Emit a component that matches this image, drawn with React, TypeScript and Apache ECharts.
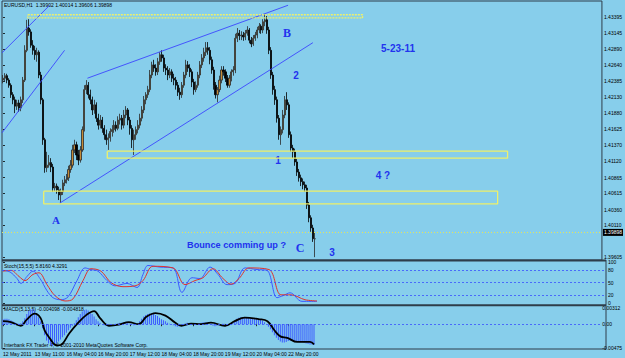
import React, { useEffect, useRef } from "react";
import * as echarts from "echarts";

// ---- data ----
const SLOTS = 302;
// [open, close, low, high], one H1 bar each
const candles: number[][] = [
  [1.4240,1.4243,1.4235,1.4248],[1.4243,1.4247,1.4238,1.4251],[1.4247,1.4240,1.4235,1.4250],[1.4240,1.4232,1.4228,1.4243],
  [1.4232,1.4217,1.4212,1.4235],[1.4217,1.4209,1.4202,1.4221],[1.4209,1.4199,1.4188,1.4214],[1.4199,1.4204,1.4193,1.4209],
  [1.4204,1.4196,1.4190,1.4209],[1.4196,1.4209,1.4191,1.4214],[1.4209,1.4240,1.4204,1.4245],[1.4240,1.4287,1.4237,1.4295],
  [1.4287,1.4322,1.4284,1.4335],[1.4322,1.4316,1.4310,1.4336],[1.4316,1.4295,1.4291,1.4320],[1.4295,1.4287,1.4280,1.4303],
  [1.4287,1.4280,1.4272,1.4294],[1.4280,1.4284,1.4269,1.4291],[1.4284,1.4248,1.4243,1.4287],[1.4248,1.4209,1.4202,1.4253],
  [1.4209,1.4146,1.4138,1.4212],[1.4146,1.4102,1.4094,1.4149],[1.4102,1.4106,1.4095,1.4127],[1.4106,1.4110,1.4102,1.4122],
  [1.4110,1.4103,1.4095,1.4117],[1.4103,1.4070,1.4064,1.4108],[1.4070,1.4073,1.4065,1.4078],[1.4073,1.4067,1.4061,1.4077],
  [1.4067,1.4059,1.4051,1.4072],[1.4059,1.4064,1.4046,1.4069],[1.4064,1.4078,1.4059,1.4083],[1.4078,1.4083,1.4073,1.4089],
  [1.4083,1.4086,1.4077,1.4092],[1.4086,1.4099,1.4081,1.4105],[1.4099,1.4106,1.4094,1.4114],[1.4106,1.4130,1.4102,1.4138],
  [1.4130,1.4138,1.4125,1.4146],[1.4138,1.4122,1.4114,1.4143],[1.4122,1.4114,1.4106,1.4130],[1.4114,1.4130,1.4110,1.4136],
  [1.4130,1.4162,1.4127,1.4167],[1.4162,1.4225,1.4159,1.4232],[1.4225,1.4232,1.4218,1.4240],[1.4232,1.4217,1.4211,1.4237],
  [1.4217,1.4209,1.4202,1.4225],[1.4209,1.4193,1.4185,1.4214],[1.4193,1.4201,1.4187,1.4209],[1.4201,1.4180,1.4174,1.4205],
  [1.4180,1.4169,1.4162,1.4187],[1.4169,1.4177,1.4164,1.4185],[1.4177,1.4164,1.4157,1.4182],[1.4164,1.4154,1.4146,1.4169],
  [1.4154,1.4146,1.4138,1.4162],[1.4146,1.4149,1.4130,1.4156],[1.4149,1.4159,1.4143,1.4164],[1.4159,1.4162,1.4151,1.4169],
  [1.4162,1.4169,1.4157,1.4177],[1.4169,1.4164,1.4159,1.4175],[1.4164,1.4177,1.4161,1.4183],[1.4177,1.4180,1.4170,1.4187],
  [1.4180,1.4169,1.4162,1.4185],[1.4169,1.4185,1.4164,1.4193],[1.4185,1.4193,1.4180,1.4199],[1.4193,1.4177,1.4169,1.4196],
  [1.4177,1.4164,1.4154,1.4182],[1.4164,1.4146,1.4133,1.4169],[1.4146,1.4154,1.4122,1.4162],[1.4154,1.4162,1.4146,1.4167],
  [1.4162,1.4169,1.4156,1.4177],[1.4169,1.4180,1.4164,1.4187],[1.4180,1.4193,1.4175,1.4199],[1.4193,1.4209,1.4188,1.4215],
  [1.4209,1.4217,1.4202,1.4221],[1.4217,1.4225,1.4212,1.4231],[1.4225,1.4248,1.4221,1.4256],[1.4248,1.4264,1.4243,1.4269],
  [1.4264,1.4259,1.4253,1.4272],[1.4259,1.4253,1.4247,1.4265],[1.4253,1.4269,1.4248,1.4275],[1.4269,1.4280,1.4264,1.4284],
  [1.4280,1.4275,1.4269,1.4287],[1.4275,1.4259,1.4253,1.4280],[1.4259,1.4256,1.4248,1.4265],[1.4256,1.4248,1.4240,1.4262],
  [1.4248,1.4253,1.4243,1.4259],[1.4253,1.4243,1.4237,1.4257],[1.4243,1.4240,1.4232,1.4250],[1.4240,1.4232,1.4225,1.4245],
  [1.4232,1.4221,1.4215,1.4237],[1.4221,1.4217,1.4209,1.4228],[1.4217,1.4232,1.4212,1.4237],[1.4232,1.4248,1.4228,1.4253],
  [1.4248,1.4264,1.4243,1.4272],[1.4264,1.4259,1.4253,1.4270],[1.4259,1.4253,1.4245,1.4265],[1.4253,1.4237,1.4229,1.4257],
  [1.4237,1.4225,1.4217,1.4242],[1.4225,1.4232,1.4221,1.4238],[1.4232,1.4248,1.4228,1.4253],[1.4248,1.4264,1.4243,1.4270],
  [1.4264,1.4275,1.4259,1.4281],[1.4275,1.4284,1.4269,1.4291],[1.4284,1.4291,1.4278,1.4300],[1.4291,1.4287,1.4280,1.4300],
  [1.4287,1.4272,1.4265,1.4292],[1.4272,1.4256,1.4250,1.4277],[1.4256,1.4232,1.4225,1.4261],[1.4232,1.4217,1.4211,1.4237],
  [1.4217,1.4225,1.4205,1.4229],[1.4225,1.4240,1.4221,1.4247],[1.4240,1.4256,1.4235,1.4262],[1.4256,1.4253,1.4247,1.4262],
  [1.4253,1.4243,1.4237,1.4257],[1.4243,1.4232,1.4228,1.4248],[1.4232,1.4243,1.4228,1.4248],[1.4243,1.4253,1.4238,1.4257],
  [1.4253,1.4256,1.4247,1.4262],[1.4256,1.4306,1.4251,1.4313],[1.4306,1.4314,1.4300,1.4322],[1.4314,1.4310,1.4303,1.4319],
  [1.4310,1.4311,1.4303,1.4317],[1.4311,1.4308,1.4302,1.4316],[1.4308,1.4314,1.4303,1.4319],[1.4314,1.4319,1.4310,1.4325],
  [1.4319,1.4303,1.4298,1.4322],[1.4303,1.4297,1.4292,1.4308],[1.4297,1.4306,1.4294,1.4311],[1.4306,1.4311,1.4302,1.4316],
  [1.4311,1.4319,1.4306,1.4324],[1.4319,1.4325,1.4314,1.4330],[1.4325,1.4319,1.4313,1.4328],[1.4319,1.4332,1.4314,1.4336],
  [1.4332,1.4335,1.4325,1.4343],[1.4335,1.4319,1.4313,1.4341],[1.4319,1.4287,1.4281,1.4324],[1.4287,1.4248,1.4242,1.4292],
  [1.4248,1.4225,1.4217,1.4253],[1.4225,1.4209,1.4201,1.4231],[1.4209,1.4180,1.4173,1.4214],[1.4180,1.4154,1.4146,1.4185],
  [1.4154,1.4162,1.4138,1.4167],[1.4162,1.4185,1.4156,1.4193],[1.4185,1.4209,1.4180,1.4215],[1.4209,1.4201,1.4193,1.4221],
  [1.4201,1.4154,1.4149,1.4205],[1.4154,1.4133,1.4127,1.4159],[1.4133,1.4127,1.4117,1.4138],[1.4127,1.4111,1.4105,1.4132],
  [1.4111,1.4095,1.4089,1.4116],[1.4095,1.4086,1.4080,1.4100],[1.4086,1.4080,1.4073,1.4091],[1.4080,1.4075,1.4068,1.4085],
  [1.4075,1.4070,1.4064,1.4080],[1.4070,1.4043,1.4037,1.4075],[1.4043,1.4023,1.4016,1.4048],[1.4023,1.4007,1.4001,1.4027],
  [1.4007,1.3990,1.3985,1.4012],[1.3990,1.3990,1.3961,1.4001],
];

const priceTicks = [1.43395,1.43145,1.4289,1.4264,1.42385,1.4213,1.4188,1.41625,1.4137,1.4112,1.40865,1.40615,1.4036,1.4011,1.39605];
const bidPrice = 1.39898;

const dateLabels = ["12 May 2011","13 May 11:00","16 May 04:00","16 May 20:00","17 May 12:00","18 May 04:00","18 May 20:00","19 May 12:00","20 May 04:00","22 May 20:00"];
const dateIdx = [0,16,32,48,64,80,96,112,128,144];

// trend lines: [[barIndex, price], [barIndex, price]]
const trendLines: number[][][] = [
  [[-0.5,1.4283],[23.5,1.4358]],
  [[-0.5,1.4157],[31,1.4287]],
  [[42.5,1.4243],[143.5,1.4358]],
  [[28.5,1.4046],[156,1.4299]],
];
// zones: [fromIndex, toIndex, priceTop, priceBottom]
const zones: number[][] = [
  [12.5,181,1.4343,1.4338],
  [52.5,254,1.4128,1.4117],
  [20.5,249,1.4065,1.4045],
];

const stochK: number[][] = [
  [0,80],[3.5,76],[7,60],[9,48],[12,65],[15,78],[18.5,60],[22,30],[25,13],[29,8],[32.5,15],[37,55],[41,86],[44,82],
  [47.5,78],[52,55],[56,42],[62,48],[67,38],[70,70],[72.5,92],[78.5,88],[85,86],[89.5,26],[94.5,62],[98.5,60],
  [103.5,88],[107.5,70],[112,45],[116,48],[121,86],[127,82],[132,80],[137,13],[140,18],[143.5,25],[149.5,4],[157,4],
];
const stochD: number[][] = [
  [0,78],[4,80],[8,65],[11,55],[15,70],[18,74],[22,45],[26,18],[31,5],[35,10],[40,55],[44,84],[49,78],[54,50],
  [60,40],[66,42],[70,55],[75,90],[85,86],[91,45],[96,55],[100,62],[105,84],[110,60],[114,46],[118,60],[123,86],
  [133,82],[139,20],[144,20],[151,8],[157,5],
];
const stochLevels = [20, 50, 80];
const stochTicks = [0, 20, 50, 80, 100];

const macdHist = [
  0.0010,0.0011,0.0011,0.0010,0.0008,0.0006,0.0004,0.0002,0.0001,0.0002,
  0.0006,0.0012,0.0020,0.0026,0.0029,0.0030,0.0027,0.0022,0.0014,0.0006,
  -0.0008,-0.0022,-0.0032,-0.0038,-0.0042,-0.0043,-0.0041,-0.0038,-0.0034,-0.0030,
  -0.0026,-0.0022,-0.0017,-0.0012,-0.0007,-0.0003,0.0002,0.0008,0.0014,0.0020,
  0.0025,0.0028,0.0029,0.0027,0.0024,0.0020,0.0015,0.0010,0.0006,0.0003,
  0.0000,-0.0002,-0.0003,-0.0003,-0.0002,-0.0001,0.0000,0.0001,0.0002,0.0003,
  0.0003,0.0004,0.0003,0.0002,0.0001,-0.0001,-0.0002,-0.0001,0.0002,0.0006,
  0.0011,0.0015,0.0018,0.0020,0.0021,0.0021,0.0020,0.0018,0.0016,0.0013,
  0.0010,0.0008,0.0006,0.0003,0.0001,0.0000,-0.0002,-0.0004,-0.0005,-0.0004,
  -0.0002,0.0000,0.0002,0.0003,0.0002,0.0001,0.0000,0.0000,0.0001,0.0002,
  0.0003,0.0004,0.0004,0.0003,0.0001,-0.0001,-0.0003,-0.0004,-0.0003,-0.0001,
  0.0000,0.0001,0.0001,0.0000,-0.0001,0.0000,0.0003,0.0008,0.0011,0.0013,
  0.0014,0.0014,0.0013,0.0013,0.0012,0.0011,0.0011,0.0012,0.0012,0.0011,
  0.0010,0.0007,0.0004,0.0000,-0.0005,-0.0010,-0.0016,-0.0022,-0.0027,-0.0031,
  -0.0034,-0.0036,-0.0036,-0.0035,-0.0033,-0.0032,-0.0033,-0.0034,-0.0035,-0.0035,
  -0.0036,-0.0036,-0.0037,-0.0038,-0.0039,-0.0040,-0.0040,-0.0041,
];
const macdSignal: number[][] = [
  [0,0.0006],[4,0.0004],[9,-0.0003],[12,0.0009],[16,0.0021],[19,0.0012],[21,-0.0012],[24,-0.0030],[26,-0.0040],
  [28,-0.0042],[30,-0.0039],[33.5,-0.0018],[38,0.0003],[42,0.0018],[46,0.0026],[49,0.0012],[53.5,-0.0003],
  [58.5,-0.0001],[63.5,0.0004],[68.5,0.0000],[72.5,0.0015],[77,0.0022],[82,0.0017],[87,0.0003],[90,-0.0003],
  [95,0.0001],[100,0.0000],[105,0.0003],[112,-0.0003],[117,0.0006],[122,0.0013],[129,0.0010],[133.5,0.0006],
  [137,-0.0012],[140,-0.0024],[143.5,-0.0027],[148.5,-0.0035],[155,-0.0035],[157,-0.0040],
];
const macdTicks = [-0.00475, 0, 0.00312];

export default function App() {
  const ref = useRef<HTMLDivElement>(null);
  useEffect(() => {
    document.body.style.margin = "0";
    const chart = echarts.init(ref.current!, null, { renderer: "svg" });
    const cats = Array.from({ length: SLOTS }, (_, i) => String(i));
    const X0 = -0.5, X1 = SLOTS - 0.5;
    const small = { fontSize: 5, lineHeight: 4, color: "#000", fontFamily: "Liberation Sans" };
    const blue = "#2233ee";
    const frame = "#2e3d4a";

    const series: any[] = [
      {
        type: "candlestick", xAxisIndex: 0, yAxisIndex: 0, data: candles, barWidth: 1.6, silent: true,
        itemStyle: { color: "#c48a36", color0: "#000000", borderColor: "#2a2a2a", borderColor0: "#000000", borderWidth: 0.8 },
        markLine: {
          silent: true, symbol: "none",
          lineStyle: { color: "#e6e65a", type: [1, 2], width: 1 },
          label: { show: true, position: "end", formatter: bidPrice.toFixed(5), backgroundColor: "#000", color: "#fff", fontSize: 5, lineHeight: 5, padding: [1, 1], distance: 1, fontFamily: "Liberation Sans" },
          data: [{ yAxis: bidPrice }],
        },
      },
    ];
    trendLines.forEach((l) => {
      series.push({ type: "line", xAxisIndex: 1, yAxisIndex: 0, data: l, symbol: "none", silent: true, lineStyle: { color: "#3c46ff", width: 0.9 } });
    });
    zones.forEach((z, k) => {
      const [a, b, t, btm] = z;
      series.push({
        type: "line", xAxisIndex: 1, yAxisIndex: 0, symbol: "none", silent: true,
        data: [[a, t], [b, t], [b, btm], [a, btm], [a, t]],
        lineStyle: { color: "#eef06a", width: 1.3, type: k === 0 ? [2, 1] : "solid" },
      });
    });
    series.push({
      type: "line", xAxisIndex: 2, yAxisIndex: 1, data: stochK, symbol: "none", silent: true, smooth: 0.35,
      lineStyle: { color: "#3d5bff", width: 1 },
      markLine: { silent: true, symbol: "none", label: { show: false }, lineStyle: { color: "#3a50ff", type: [2, 2], width: 0.8 }, data: stochLevels.map((v) => ({ yAxis: v })) },
    });
    series.push({ type: "line", xAxisIndex: 2, yAxisIndex: 1, data: stochD, symbol: "none", silent: true, smooth: 0.35, lineStyle: { color: "#e0322a", width: 1 } });
    series.push({
      type: "bar", xAxisIndex: 3, yAxisIndex: 2, data: macdHist.map((v, i) => [i, v]), barWidth: 0.9, silent: true,
      itemStyle: { color: "#3d5bff" },
      markLine: { silent: true, symbol: "none", label: { show: false }, lineStyle: { color: "#3a50ff", type: [2, 2], width: 0.8 }, data: [{ yAxis: 0 }] },
    });
    series.push({ type: "line", xAxisIndex: 3, yAxisIndex: 2, data: macdSignal, symbol: "none", silent: true, smooth: 0.4, lineStyle: { color: "#000", width: 1.8 } });

    const rightAxis = (gridIndex: number, min: number, max: number, ticks: number[], fmt: (v: number) => string) => ({
      type: "value", gridIndex, min, max, position: "right", scale: true,
      splitLine: { show: false }, axisLine: { show: false },
      axisTick: { show: true, customValues: ticks, length: 2, lineStyle: { color: "#000", width: 0.8 } },
      axisLabel: { customValues: ticks, formatter: fmt, margin: 2, ...small },
    });

    const txt = (x: number, y: number, text: string, size: number, serif = false, align = "center") => ({
      type: "text", x, y, silent: true,
      style: { text, fill: blue, fontSize: size, fontWeight: "bold", fontFamily: serif ? "Liberation Serif" : "Liberation Sans", align, verticalAlign: "middle" },
    });
    const smallTxt = (x: number, y: number, text: string) => ({
      type: "text", x, y, silent: true,
      style: { text, fill: "#000", fontSize: 5, fontFamily: "Liberation Sans", align: "left", verticalAlign: "middle" },
    });

    chart.setOption({
      animation: false,
      backgroundColor: "#87ceeb",
      grid: [
        { left: 2, top: 1, width: 604, height: 259, show: true, borderColor: frame, borderWidth: 1 },
        { left: 2, top: 262.2, width: 604, height: 40.8 },
        { left: 2, top: 306, width: 604, height: 43 },
      ],
      xAxis: [
        { type: "category", gridIndex: 0, data: cats, boundaryGap: true, show: false },
        { type: "value", gridIndex: 0, min: X0, max: X1, show: false },
        { type: "value", gridIndex: 1, min: X0, max: X1, show: false },
        {
          type: "value", gridIndex: 2, min: X0, max: X1, position: "bottom",
          axisLine: { show: false }, splitLine: { show: false },
          axisTick: { show: true, customValues: dateIdx, length: 2, lineStyle: { color: "#000", width: 0.8 } },
          axisLabel: {
            customValues: dateIdx, margin: 3, align: "left", ...small,
            formatter: (v: number) => { const k = dateIdx.indexOf(Math.round(v)); return k >= 0 ? dateLabels[k] : ""; },
          },
        },
      ],
      yAxis: [
        rightAxis(0, 1.39565, 1.43647, priceTicks, (v) => v.toFixed(5)),
        rightAxis(1, 0, 100, stochTicks, (v) => String(v)),
        rightAxis(2, -0.0049, 0.0036, macdTicks, (v) => (v === 0 ? "0.00" : v.toFixed(5))),
      ],
      series,
      graphic: [
        { type: "rect", silent: true, shape: { x: 2, y: 259.5, width: 604, height: 2 }, style: { fill: frame } },
        { type: "rect", silent: true, shape: { x: 2, y: 304.3, width: 604, height: 2 }, style: { fill: frame } },
        { type: "line", silent: true, shape: { x1: 2, y1: 260, x2: 2, y2: 349 }, style: { stroke: frame, lineWidth: 1 } },
        { type: "line", silent: true, shape: { x1: 606, y1: 260, x2: 606, y2: 349 }, style: { stroke: frame, lineWidth: 1 } },
        { type: "line", silent: true, shape: { x1: 2, y1: 349, x2: 606, y2: 349 }, style: { stroke: frame, lineWidth: 1 } },
        smallTxt(4, 5, "EURUSD,H1  1.39902 1.40014 1.39606 1.39898"),
        smallTxt(4, 266, "Stoch(15,5,5) 5.8160 4.3291"),
        smallTxt(4, 308.5, "MACD(5,13,5) -0.004098 -0.004818"),
        smallTxt(4, 345, "Interbank FX Trader 4, © 2001-2010 MetaQuotes Software Corp."),
        txt(287, 33, "B", 12, true),
        txt(296, 75, "2", 10),
        txt(398, 48, "5-23-11", 10),
        txt(278, 160, "1", 10),
        txt(56, 220, "A", 11, true),
        txt(383, 175, "4 ?", 10),
        txt(187, 245, "Bounce comming up ?", 9.2, false, "left"),
        txt(300, 248, "C", 12, true),
        txt(332, 252, "3", 10),
      ],
    });
    return () => chart.dispose();
  }, []);
  return <div ref={ref} style={{ position: "absolute", left: 0, top: 0, width: 625, height: 358, background: "#87ceeb" }} />;
}
